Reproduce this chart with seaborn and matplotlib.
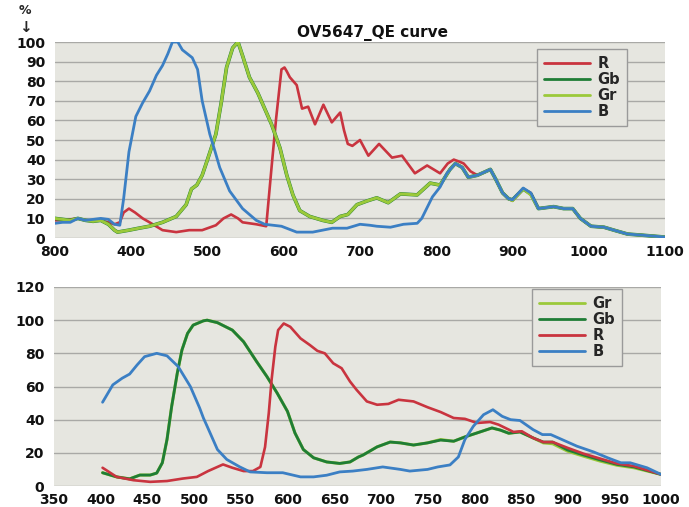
import numpy as np
import pandas as pd
import seaborn as sns
from matplotlib import pyplot as plt

# ---- top chart (OV5647_QE curve) ----
top_r_nm = [300, 310, 320, 330, 340, 350, 360, 370, 378, 385, 390, 397, 405, 415, 424, 441, 459, 476, 493,
            511, 521, 531, 540, 546, 564, 577, 584, 590, 597, 601, 604, 608, 617, 624, 632, 641, 652, 663,
            674, 679, 684, 690, 700, 711, 725, 742, 755, 772, 788, 805, 815, 823, 830, 836, 845, 854, 871,
            878, 887, 895, 900, 914, 924, 934, 954, 967, 979, 989, 1003, 1020, 1033, 1051, 1068, 1099]
top_r = [9, 9, 9.5, 10, 9, 9, 9, 8, 7, 8, 13, 15, 13, 10, 8, 4, 3, 4, 4,
         6.5, 10, 12, 10, 8, 7, 6, 36, 61, 86, 87, 85, 82, 78, 66, 67, 58, 68, 59,
         64, 55, 48, 47, 50, 42, 48, 41, 42, 33, 37, 33, 38, 40, 39, 38, 34, 32, 35,
         30, 23, 20, 19, 25, 23, 15, 16, 15, 15, 10, 6, 5.5, 4, 2, 1.5, 0.5]

top_g_nm = [300, 310, 320, 330, 340, 350, 360, 370, 378, 382, 397, 410, 424, 441, 459, 472, 479, 486, 493,
            500, 511, 518, 525, 533, 540, 546, 555, 566, 575, 584, 595, 604, 612, 621, 634, 651, 663, 674,
            684, 696, 710, 722, 737, 753, 775, 792, 805, 818, 825, 834, 842, 854, 871, 878, 887, 895, 900,
            914, 924, 934, 954, 967, 979, 989, 1003, 1020, 1033, 1051, 1068, 1099]
top_gr = [10, 9.5, 9, 10, 9, 8.5, 9, 7, 4, 3, 4, 5, 6, 8, 11, 17, 25, 27, 32,
          40, 53, 69, 87, 97, 100, 93, 82, 74, 66, 58, 46, 32, 22, 14, 11, 9, 8, 11,
          12, 17, 19, 20.5, 18, 22.5, 22, 28, 27, 35, 38, 36, 31, 32, 35, 30, 23, 20, 19,
          25, 22, 15, 16, 15, 15, 10, 6, 5.5, 4, 2, 1.5, 0.5]
top_gb = [10, 9.5, 9, 10, 9, 8.5, 9, 7, 4, 3, 4, 5, 6, 8, 11, 17, 25, 27, 32,
          40, 53, 69, 87, 97, 100, 93, 82, 74, 66, 58, 46, 32, 22, 14, 11, 9, 8, 11,
          12, 17, 19, 20.5, 18, 22.5, 22, 28, 27, 35, 38, 36, 31, 32, 35, 30, 23, 20, 19.5,
          25, 22.5, 15, 16, 15, 15, 10, 6, 5.5, 4, 2, 1.5, 0.5]

top_b_nm = [300, 310, 320, 330, 340, 350, 360, 370, 378, 385, 390, 397, 406, 415, 424, 433, 441, 448, 454,
            461, 467, 480, 487, 493, 503, 510, 516, 529, 546, 564, 575, 597, 617, 638, 664, 683, 700, 713,
            722, 740, 757, 775, 781, 795, 805, 814, 825, 834, 842, 854, 871, 878, 887, 895, 900, 914, 924,
            934, 954, 967, 979, 989, 1003, 1020, 1033, 1051, 1068, 1099]
top_b = [7.5, 8, 8, 10, 9, 9.5, 10, 9.5, 7, 6.5, 20, 44, 62, 69, 75, 83, 88, 94, 100,
         100, 96, 92, 86, 70, 53, 44, 36, 24, 15, 9, 7, 6, 3, 3, 5, 5, 7, 6.5,
         6, 5.5, 7, 7.5, 10, 21, 26, 33, 38, 36, 31, 32, 35, 30, 23, 20, 19.5, 25.5, 23,
         15, 16, 15, 15, 10, 6, 5.5, 4, 2, 1.5, 0.5]

top_xticks = [300, 400, 500, 600, 700, 800, 900, 1000, 1100]
top_xlabels = ['800', '400', '500', '600', '700', '800', '900', '1000', '1100']

# ---- bottom chart ----
bot_b_nm = [402, 413, 423, 431, 439, 447, 460, 471, 483, 496, 506, 510, 514, 525, 535, 549, 560, 578, 595,
            614, 628, 642, 656, 670, 685, 702, 721, 731, 750, 761, 774, 783, 790, 799, 810, 820, 830, 839,
            849, 863, 873, 882, 894, 910, 928, 943, 957, 967, 985, 1000]
bot_b = [50.5, 61, 65, 67.5, 73, 78, 80, 78.5, 72, 60, 47, 41, 36, 22, 16, 11.5, 8.5, 8, 8,
         5.5, 5.5, 6.5, 8.5, 9, 10, 11.5, 10, 9, 10, 11.5, 12.7, 17.5, 28, 36, 43, 46, 42, 40,
         39.5, 34, 31, 31, 28, 24, 20.5, 17, 14, 14, 11, 7]

bot_r_nm = [402, 417, 435, 453, 471, 488, 503, 515, 531, 541, 553, 563, 571, 576, 580, 583, 587, 590, 596,
            603, 614, 624, 632, 640, 649, 658, 667, 674, 685, 696, 708, 719, 735, 750, 764, 778, 790, 803,
            817, 826, 837, 842, 851, 863, 874, 884, 900, 917, 935, 953, 971, 1000]
bot_r = [11, 5.5, 3.5, 2.5, 3, 4.5, 5.5, 9, 13, 11, 9, 9, 11.5, 23.5, 44, 64, 84, 94, 98,
         96, 89, 85, 81.5, 80, 74, 71, 63, 58, 51, 49, 49.5, 52, 51, 47.5, 44.6, 41, 40.5, 38,
         38.6, 37, 34, 32.6, 33, 29, 26.5, 26.5, 23, 19.5, 16.5, 13.5, 12, 7]

bot_g_nm = [402, 417, 431, 442, 453, 460, 466, 471, 476, 482, 487, 493, 499, 510, 514, 525, 541, 553, 567,
            578, 589, 600, 608, 617, 628, 642, 656, 667, 676, 681, 696, 710, 721, 735, 750, 764, 778, 790,
            803, 819, 828, 837, 849, 863, 874, 884, 900, 917, 935, 953, 971, 1000]
bot_gb = [8, 5.5, 4.3, 6.6, 6.6, 7.8, 14, 28, 48, 68, 82, 92, 97, 99.6, 100, 98.5, 94, 87, 75,
          66, 56, 45, 32, 22, 17, 14.5, 13.6, 14.5, 17.5, 18.7, 23.6, 26.5, 26, 24.7, 26, 27.7, 27, 29.6,
          32, 35, 33.7, 31.8, 32.6, 29, 26.5, 26.5, 21.7, 18.7, 15.7, 13, 11.5, 7]
bot_gr = [8, 5.5, 4.3, 6.6, 6.6, 7.8, 14, 28, 48, 68, 82, 92, 97, 99.6, 100, 98.5, 94, 87, 75,
          66, 56, 45, 32, 22, 17, 14.5, 13.6, 14.5, 17.5, 18.7, 23.6, 26.5, 26, 24.7, 26, 28, 27, 29.6,
          32, 35, 33.7, 31.8, 32.6, 29, 26, 25.5, 21, 18, 15, 12.5, 11, 7]

colors = {'R': '#c9343f', 'Gb': '#1f7d36', 'Gr': '#9bc93a', 'B': '#3b7fc4'}
bg = '#e6e6e0'

sns.set_theme(style='white')
plt.rcParams['font.family'] = ['DejaVu Sans']
plt.rcParams['font.weight'] = 'bold'

fig = plt.figure(figsize=(6.89, 5.07), dpi=100)
ax1 = fig.add_axes([55/689, 269/507, 610/689, 196/507])
ax2 = fig.add_axes([54/689, 21/507, 607/689, 199/507])


def draw(ax, series, lws):
    for name, x, y in series:
        df = pd.DataFrame({'nm': x, 'qe': y})
        sns.lineplot(data=df, x='nm', y='qe', ax=ax, color=colors[name], label=name,
                     lw=lws.get(name, 2.0), solid_joinstyle='round', solid_capstyle='round')


def style(ax, xlim, ylim, yticks, xticks, xlabels):
    ax.set_facecolor(bg)
    ax.set_xlim(*xlim)
    ax.set_ylim(*ylim)
    ax.set_yticks(yticks)
    ax.set_xticks(xticks)
    ax.set_xticklabels(xlabels)
    ax.set_xlabel('')
    ax.set_ylabel('')
    for s in ax.spines.values():
        s.set_visible(False)
    ax.yaxis.grid(True, color='#a9a9a6', lw=1.0)
    ax.set_axisbelow(True)
    ax.tick_params(axis='x', direction='in', length=4, color='#9a9a9a', pad=5,
                   labelsize=10, labelcolor='#111111')
    ax.tick_params(axis='y', length=0, pad=7, labelsize=10, labelcolor='#111111')
    for t in ax.get_xticklabels() + ax.get_yticklabels():
        t.set_fontweight('bold')


draw(ax1, [('R', top_r_nm, top_r), ('Gb', top_g_nm, top_gb),
           ('Gr', top_g_nm, top_gr), ('B', top_b_nm, top_b)],
     {'R': 1.9, 'Gb': 2.6, 'Gr': 2.1, 'B': 2.0})
style(ax1, (300, 1100), (0, 100), range(0, 101, 10), top_xticks, top_xlabels)

draw(ax2, [('Gr', bot_g_nm, bot_gr), ('Gb', bot_g_nm, bot_gb),
           ('R', bot_r_nm, bot_r), ('B', bot_b_nm, bot_b)],
     {'Gr': 2.2, 'Gb': 2.0, 'R': 1.9, 'B': 2.0})
style(ax2, (350, 1000), (0, 120), range(0, 121, 20), range(350, 1001, 50),
      [str(v) for v in range(350, 1001, 50)])

for ax, loc in [(ax1, (537/689, 381/507)), (ax2, (532/689, 141/507))]:
    h, l = ax.get_legend_handles_labels()
    leg = ax.legend(h, l, loc='lower left', bbox_to_anchor=loc, bbox_transform=fig.transFigure,
                    frameon=True, fancybox=False, edgecolor='#9a9a9a', facecolor=bg,
                    framealpha=1, prop={'weight': 'bold', 'size': 10.5},
                    handlelength=3.2, handletextpad=0.5, labelspacing=0.08,
                    borderpad=0.45, borderaxespad=0)
    leg.get_frame().set_linewidth(1.0)
    for line in leg.get_lines():
        line.set_linewidth(2.0)

fig.text(372/689, 1 - 33/507, 'OV5647_QE curve', ha='center', va='center',
         fontsize=11, fontweight='bold', color='#111111')
fig.text(25/689, 1 - 11/507, '%', ha='center', va='center', fontsize=9, fontweight='bold')
fig.text(25/689, 1 - 28/507, '\u2193', ha='center', va='center', fontsize=11, fontweight='bold')

plt.savefig('out.png', dpi=100)
